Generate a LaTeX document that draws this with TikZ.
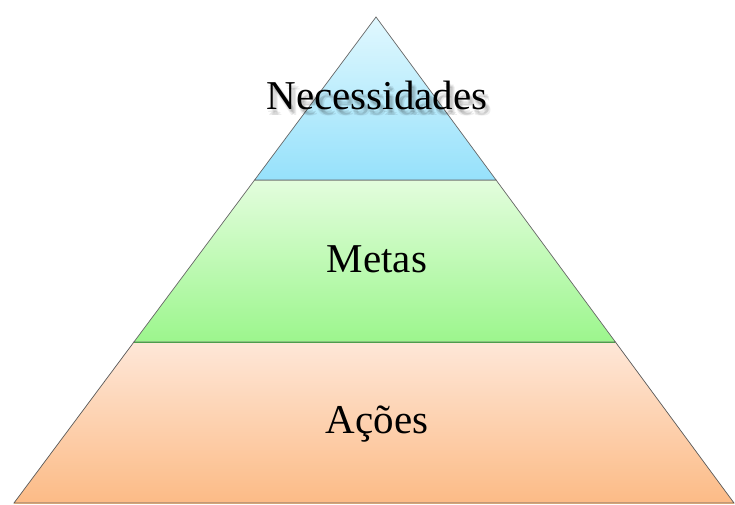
\documentclass[tikz,border=0pt]{standalone}
\usepackage{fontspec}
\setmainfont{Liberation Serif}
\usetikzlibrary{calc}
\definecolor{skyTop}{HTML}{E1F8FE}
\definecolor{skyBot}{HTML}{96E1FB}
\definecolor{grnTop}{HTML}{E3FDDD}
\definecolor{grnBot}{HTML}{9CF68D}
\definecolor{orTop}{HTML}{FEE7D8}
\definecolor{orBot}{HTML}{FCBB86}
\tikzset{
  tier/.style={draw=black!60,line width=0.7pt,shading=axis,shading angle=0},
  tiertext/.style={font=\fontsize{41}{49}\selectfont,anchor=base,inner sep=0pt},
}
\begin{document}
\begin{tikzpicture}[x=1pt,y=1pt]
\useasboundingbox (0,0) rectangle (735,505);
\pgfmathsetmacro{\tA}{163/486}
\pgfmathsetmacro{\tB}{325/486}
\coordinate (apex) at (376,488);
\coordinate (baseL) at (14,2);
\coordinate (baseR) at (734,2);
\coordinate (aL) at ($(apex)!\tA!(baseL)$);
\coordinate (aR) at ($(apex)!\tA!(baseR)$);
\coordinate (bL) at ($(apex)!\tB!(baseL)$);
\coordinate (bR) at ($(apex)!\tB!(baseR)$);
% tiers
\shade[tier,top color=orTop,bottom color=orBot,draw=black!65]
  (bL)--(bR)--(baseR)--(baseL)--cycle;
\shade[tier,top color=grnTop,bottom color=grnBot,draw=black!60]
  (aL)--(aR)--(bR)--(bL)--cycle;
\shade[tier,top color=skyTop,bottom color=skyBot,draw=black!60]
  (apex)--(aR)--(aL)--cycle;
\draw[line width=0.9pt,draw=green!45!black!70] (bL)--(bR);
\draw[line width=0.9pt,draw=brown!70] (baseL)--(baseR);
% soft shadow behind the top label
\foreach \dx/\dy in {1/-3,3/-5,4/-4,2/-6,5/-6}
  \node[tiertext,text=black,opacity=0.07] at (377+\dx,395+\dy) {Necessidades};
\node[tiertext] (necessidades) at (377,395) {Necessidades};
\node[tiertext] (metas) at (377,232) {Metas};
\node[tiertext] (acoes) at (377,71) {Ações};
\end{tikzpicture}
\end{document}
